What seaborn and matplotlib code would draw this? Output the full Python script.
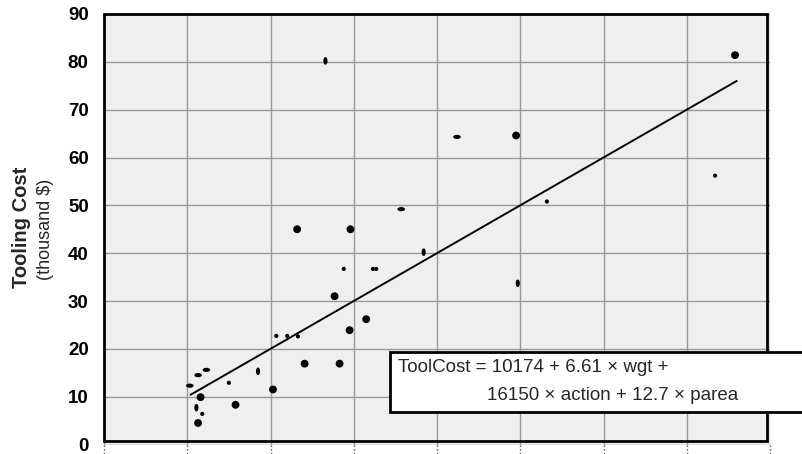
import numpy as np
import pandas as pd
import matplotlib
matplotlib.use("Agg")
import matplotlib.pyplot as plt
import matplotlib.transforms as mtransforms
from matplotlib.path import Path
from matplotlib.patches import Rectangle
import seaborn as sns

# predicted cost (x, no labels) vs actual tooling cost (thousand $)
pred = [1.03, 1.13, 1.23, 1.16, 1.11, 1.18, 1.13, 1.50, 1.58, 1.85, 2.03,
        2.07, 2.20, 2.33, 2.41, 2.83, 2.77, 2.88, 3.23, 3.27, 2.95, 3.15,
        3.57, 3.84, 4.97, 5.32, 4.95, 2.66, 4.24, 7.58, 7.34, 2.32, 2.96]
cost = [12.3, 14.5, 15.6, 9.9, 7.7, 6.4, 4.5, 12.9, 8.3, 15.3, 11.5,
        22.7, 22.7, 22.6, 16.9, 16.9, 31.0, 36.7, 36.7, 36.7, 23.9, 26.2,
        49.2, 40.2, 33.7, 50.8, 64.6, 80.2, 64.3, 81.4, 56.2, 45.0, 45.0]
shape = ["hx", "hx", "hx", "dot", "vx", "pt", "dot", "pt", "dot", "vx", "dot",
         "pt", "pt", "pt", "dot", "dot", "dot", "pt", "pt", "pt", "dot", "dot",
         "hx", "vx", "vx", "pt", "dot", "vx", "hx", "dot", "pt", "dot", "dot"]

# fitted line
fit_x = [1.04, 7.6]
fit_y = [10.4, 76.0]

y_ticks = list(range(0, 91, 10))
y_minor = list(range(5, 90, 10))
x_ticks = list(range(0, 9))

sns.set_style("white")
plt.rcParams['font.family'] = ['Liberation Sans', 'DejaVu Sans']

df = pd.DataFrame({"pred": pred, "cost": cost, "shape": shape})

t = np.linspace(0, 2 * np.pi, 40)
h_ell = Path(np.column_stack([np.cos(t), 0.55 * np.sin(t)]), closed=True)
v_ell = Path(np.column_stack([0.55 * np.cos(t), np.sin(t)]), closed=True)

fig = plt.figure(figsize=(8.02, 4.54), dpi=100)
ax = fig.add_axes([104 / 802, 1 - 444.5 / 454, 666 / 802, 430.5 / 454])
ax.set_facecolor('#efefef')

sns.scatterplot(data=df, x="pred", y="cost", style="shape", size="shape",
                markers={"dot": "o", "pt": "o", "hx": h_ell, "vx": v_ell},
                sizes={"dot": 32, "pt": 9, "hx": 30, "vx": 30},
                color="black", linewidth=0, legend=False, ax=ax, zorder=4)
sns.lineplot(x=fit_x, y=fit_y, color="black", lw=1.4, ax=ax, zorder=4)

ax.set_xlim(0, 8)
ax.set_ylim(0, 90)
ax.set_xticks(x_ticks)
ax.set_yticks(y_ticks)
ax.set_yticks(y_minor, minor=True)
ax.grid(True, which='major', color='#999999', lw=1)
ax.set_axisbelow(True)
ax.tick_params(axis='x', length=0, labelbottom=False)
ax.tick_params(axis='y', which='major', direction='out', length=7, width=1,
               pad=4, labelsize=13.5, colors='black')
ax.tick_params(axis='y', which='minor', direction='in', length=3.5, width=1)
for lab in ax.get_yticklabels():
    lab.set_fontweight('bold')
ax.set_xlabel("")
ax.set_ylabel("")
for s in ax.spines.values():
    s.set_visible(False)

# black frame, slightly inside the plot area
ax.add_patch(Rectangle((0, 0.008), 0.9955, 0.992, transform=ax.transAxes,
                       fill=False, ec='black', lw=2, clip_on=False, zorder=5))

# dotted tick marks under the x axis
trans = mtransforms.blended_transform_factory(ax.transData, ax.transAxes)
for xt in x_ticks:
    ax.plot([xt, xt], [0, -0.022], transform=trans, ls=':', color='#555555',
            lw=1, clip_on=False)

fig.text(22 / 802, 0.5, "Tooling Cost", rotation=90, ha='center', va='center',
         fontsize=14.5, fontweight='bold')
fig.text(45 / 802, 0.495, "(thousand $)", rotation=90, ha='center', va='center',
         fontsize=13)

# equation box
fig.add_artist(Rectangle((390 / 802, 1 - 412 / 454), 0.6, 60 / 454,
                         transform=fig.transFigure, fc='white', ec='black',
                         lw=2, zorder=10))
fig.text(398 / 802, 1 - 368 / 454, "ToolCost = 10174 + 6.61 \u00d7 wgt +",
         va='center', fontsize=13.5, zorder=11)
fig.text(487 / 802, 1 - 395 / 454, "16150 \u00d7 action + 12.7 \u00d7 parea",
         va='center', fontsize=13.5, zorder=11)

fig.savefig("out.png", dpi=100)
